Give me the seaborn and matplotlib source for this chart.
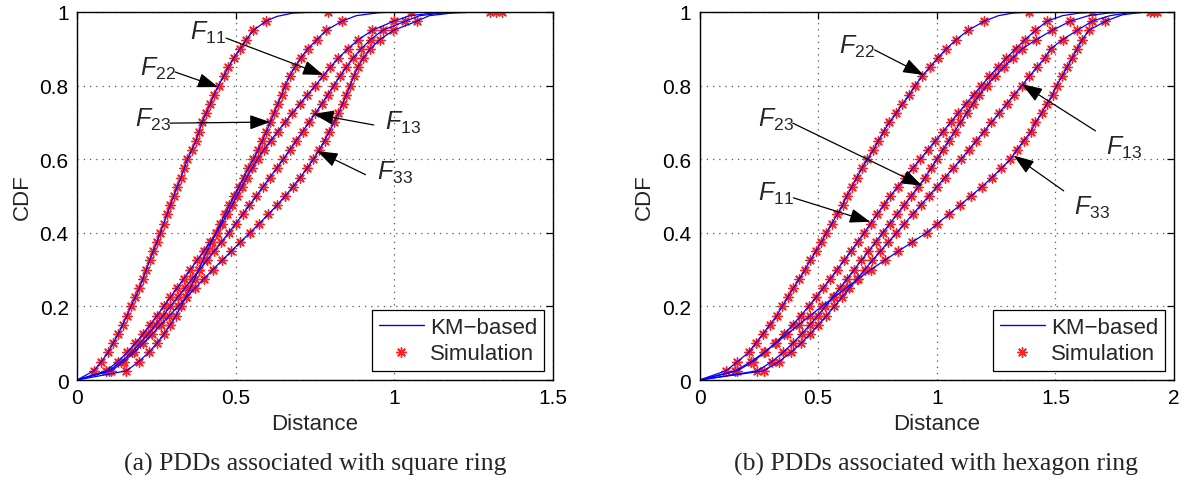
import numpy as np
import pandas as pd
import seaborn as sns
import matplotlib
matplotlib.use("Agg")
import matplotlib.pyplot as plt
from matplotlib.lines import Line2D

# niveles de CDF donde se muestrean los puntos de simulacion
cdf_levels = [0.025, 0.05, 0.075, 0.1, 0.125, 0.15, 0.175, 0.2, 0.225, 0.25,
              0.275, 0.3, 0.325, 0.35, 0.375, 0.4, 0.425, 0.45, 0.475, 0.5,
              0.525, 0.55, 0.575, 0.6, 0.625, 0.65, 0.675, 0.7, 0.725, 0.75,
              0.775, 0.8, 0.825, 0.85, 0.875, 0.9, 0.925, 0.95, 0.975, 1.0]

# (a) anillo cuadrado: distancia en cada nivel
sq_F22 = [0.053, 0.077, 0.098, 0.114, 0.130, 0.144, 0.158, 0.170, 0.184, 0.197,
          0.208, 0.219, 0.229, 0.241, 0.252, 0.263, 0.273, 0.284, 0.294, 0.305,
          0.316, 0.328, 0.338, 0.348, 0.362, 0.375, 0.385, 0.394, 0.407, 0.420,
          0.432, 0.446, 0.462, 0.477, 0.494, 0.514, 0.533, 0.556, 0.595, 0.790]
sq_F23 = [0.156, 0.195, 0.226, 0.252, 0.274, 0.294, 0.312, 0.328, 0.343, 0.357,
          0.371, 0.384, 0.397, 0.410, 0.424, 0.438, 0.452, 0.466, 0.480, 0.495,
          0.510, 0.525, 0.540, 0.556, 0.571, 0.584, 0.597, 0.609, 0.621, 0.633,
          0.645, 0.656, 0.670, 0.686, 0.705, 0.727, 0.756, 0.785, 0.835, 1.054]
sq_F11 = [0.092, 0.128, 0.158, 0.184, 0.208, 0.230, 0.252, 0.273, 0.294, 0.315,
          0.336, 0.357, 0.378, 0.399, 0.420, 0.440, 0.457, 0.473, 0.489, 0.504,
          0.520, 0.535, 0.552, 0.569, 0.588, 0.610, 0.632, 0.655, 0.678, 0.702,
          0.726, 0.751, 0.774, 0.798, 0.824, 0.853, 0.887, 0.930, 0.998, 1.300]
sq_F13 = [0.100, 0.140, 0.172, 0.199, 0.224, 0.248, 0.271, 0.294, 0.317, 0.340,
          0.363, 0.386, 0.409, 0.432, 0.455, 0.478, 0.500, 0.522, 0.543, 0.565,
          0.586, 0.607, 0.629, 0.650, 0.670, 0.690, 0.711, 0.731, 0.751, 0.771,
          0.790, 0.809, 0.828, 0.848, 0.870, 0.895, 0.925, 0.963, 1.035, 1.320]
sq_F33 = [0.108, 0.148, 0.180, 0.209, 0.237, 0.264, 0.291, 0.318, 0.345, 0.372,
          0.400, 0.428, 0.457, 0.486, 0.515, 0.545, 0.574, 0.603, 0.630, 0.656,
          0.680, 0.703, 0.725, 0.745, 0.763, 0.780, 0.795, 0.810, 0.824, 0.837,
          0.849, 0.861, 0.872, 0.885, 0.902, 0.924, 0.954, 0.997, 1.071, 1.340]

# (b) anillo hexagonal
hx_F22 = [0.111, 0.160, 0.207, 0.237, 0.267, 0.296, 0.326, 0.348, 0.372, 0.396,
          0.420, 0.445, 0.467, 0.490, 0.514, 0.535, 0.558, 0.580, 0.603, 0.621,
          0.642, 0.663, 0.684, 0.708, 0.733, 0.754, 0.776, 0.800, 0.828, 0.855,
          0.884, 0.909, 0.937, 0.970, 1.004, 1.040, 1.082, 1.132, 1.200, 1.387]
hx_F11 = [0.160, 0.225, 0.275, 0.318, 0.357, 0.393, 0.427, 0.460, 0.491, 0.521,
          0.551, 0.580, 0.609, 0.638, 0.666, 0.694, 0.721, 0.748, 0.776, 0.804,
          0.835, 0.866, 0.898, 0.930, 0.962, 0.994, 1.026, 1.058, 1.090, 1.122,
          1.155, 1.188, 1.222, 1.257, 1.293, 1.332, 1.372, 1.416, 1.465, 1.655]
hx_F23 = [0.244, 0.305, 0.352, 0.393, 0.430, 0.465, 0.498, 0.530, 0.561, 0.592,
          0.622, 0.652, 0.682, 0.712, 0.742, 0.772, 0.802, 0.832, 0.862, 0.892,
          0.922, 0.950, 0.976, 1.000, 1.025, 1.050, 1.075, 1.100, 1.126, 1.152,
          1.180, 1.210, 1.245, 1.282, 1.320, 1.360, 1.420, 1.486, 1.563, 1.900]
hx_F13 = [0.270, 0.335, 0.385, 0.428, 0.466, 0.501, 0.535, 0.568, 0.600, 0.632,
          0.664, 0.696, 0.729, 0.762, 0.796, 0.830, 0.864, 0.898, 0.932, 0.966,
          1.000, 1.034, 1.068, 1.102, 1.134, 1.166, 1.198, 1.230, 1.262, 1.294,
          1.326, 1.358, 1.390, 1.422, 1.455, 1.480, 1.530, 1.592, 1.655, 1.915]
hx_F33 = [0.150, 0.218, 0.272, 0.322, 0.370, 0.418, 0.466, 0.515, 0.566, 0.618,
          0.670, 0.722, 0.780, 0.838, 0.897, 0.957, 1.003, 1.050, 1.098, 1.144,
          1.190, 1.232, 1.272, 1.310, 1.337, 1.366, 1.397, 1.416, 1.442, 1.464,
          1.488, 1.505, 1.528, 1.549, 1.571, 1.592, 1.613, 1.641, 1.711, 1.930]

# cola de la curva KM entre el ultimo punto y CDF = 1
sq_tails = {
    "F22": ([0.63, 0.68, 0.75], [0.988, 0.997, 1.0]),
    "F23": ([0.88, 0.95, 1.00], [0.990, 0.998, 1.0]),
    "F11": ([1.05, 1.12, 1.20], [0.990, 0.997, 1.0]),
    "F13": ([1.08, 1.15, 1.22], [0.990, 0.997, 1.0]),
    "F33": ([1.11, 1.18, 1.26], [0.990, 0.997, 1.0]),
}
hx_tails = {
    "F22": ([1.26, 1.32, 1.40], [0.990, 0.997, 1.0]),
    "F11": ([1.53, 1.60, 1.68], [0.990, 0.997, 1.0]),
    "F23": ([1.64, 1.72, 1.82], [0.990, 0.997, 1.0]),
    "F13": ([1.73, 1.80, 1.90], [0.990, 0.997, 1.0]),
    "F33": ([1.78, 1.85, 1.92], [0.992, 0.998, 1.0]),
}

sq_curves = {"F22": sq_F22, "F23": sq_F23, "F11": sq_F11, "F13": sq_F13, "F33": sq_F33}
hx_curves = {"F22": hx_F22, "F11": hx_F11, "F23": hx_F23, "F13": hx_F13, "F33": hx_F33}

# etiquetas y flechas: (texto, posicion texto, cola, punta)
sq_labels = [
    ("11", (0.356, 0.927), (0.470, 0.929), (0.776, 0.829)),
    ("22", (0.199, 0.829), (0.309, 0.837), (0.445, 0.796)),
    ("23", (0.183, 0.690), (0.293, 0.698), (0.609, 0.701)),
    ("13", (0.972, 0.682), (0.935, 0.693), (0.745, 0.723)),
    ("33", (0.945, 0.546), (0.909, 0.558), (0.757, 0.622)),
]
hx_labels = [
    ("22", (0.590, 0.890), (0.738, 0.897), (0.944, 0.829)),
    ("23", (0.246, 0.691), (0.393, 0.698), (0.938, 0.528)),
    ("11", (0.248, 0.490), (0.396, 0.495), (0.719, 0.430)),
    ("13", (1.715, 0.614), (1.669, 0.677), (1.359, 0.804)),
    ("33", (1.580, 0.451), (1.535, 0.514), (1.324, 0.610)),
]

sns.set_style("white")
plt.rcParams["font.family"] = ["Liberation Sans", "DejaVu Sans"]
plt.rcParams["mathtext.fontset"] = "custom"
plt.rcParams["mathtext.it"] = "Liberation Sans:italic"
plt.rcParams["mathtext.rm"] = "Liberation Sans"

fig = plt.figure(figsize=(11.86, 4.85), dpi=100)
ax1 = fig.add_axes([0.0649, 0.2144, 0.4014, 0.7588])
ax2 = fig.add_axes([0.5898, 0.2144, 0.4001, 0.7588])

asterisk = (8, 2, 0)


def draw_panel(ax, curves, tails, labels, xmax, xticks, xticklabels):
    for name, xs in curves.items():
        pts = pd.DataFrame({"x": xs, "y": cdf_levels})
        sns.scatterplot(data=pts, x="x", y="y", ax=ax, color="#ff2020",
                        marker=asterisk, s=46, linewidth=1.0, legend=False, zorder=3)
    for name, xs in curves.items():
        tx, ty = tails[name]
        line = pd.DataFrame({
            "x": [0.0] + xs[:-1] + tx + [xmax],
            "y": [0.0] + cdf_levels[:-1] + ty + [1.0],
        })
        sns.lineplot(data=line, x="x", y="y", ax=ax, color="#0000ff", lw=0.9,
                     sort=False, estimator=None, legend=False, zorder=4)

    for sub, tpos, tail, head in labels:
        ax.text(tpos[0], tpos[1], r"$F_{%s}$" % sub, fontsize=18,
                ha="left", va="baseline", zorder=5)
        ax.annotate("", xy=head, xytext=tail,
                    arrowprops=dict(arrowstyle="-|>,head_length=0.9,head_width=0.32",
                                    color="black", lw=0.9, mutation_scale=14,
                                    shrinkA=0, shrinkB=0), zorder=6)

    ax.set_xlim(0, xmax)
    ax.set_ylim(0, 1)
    ax.set_xticks(xticks)
    ax.set_xticklabels(xticklabels)
    ax.set_yticks([0, 0.2, 0.4, 0.6, 0.8, 1])
    ax.set_yticklabels(["0", "0.2", "0.4", "0.6", "0.8", "1"])
    ax.grid(True, color="#555555", linestyle=(0, (1, 4)), lw=0.9)
    ax.tick_params(direction="in", length=5, width=0.9, top=True, right=True,
                   labelsize=15, pad=6, colors="black")
    for sp in ax.spines.values():
        sp.set_color("black")
        sp.set_linewidth(1.0)
        sp.set_zorder(7)
    ax.set_xlabel("Distance", fontsize=16, labelpad=4)
    ax.set_ylabel("CDF", fontsize=16, labelpad=5)

    handles = [Line2D([], [], color="#0000ff", lw=1.0),
               Line2D([], [], color="#ff2020", marker=asterisk, ls="none",
                      markersize=7.5, markeredgewidth=1.0)]
    leg = ax.legend(handles, ["KM\u2212based", "Simulation"], loc="lower right",
                    fontsize=16, fancybox=False, framealpha=1, edgecolor="black",
                    borderaxespad=0.4, handlelength=2.0, handletextpad=0.3,
                    borderpad=0.3, labelspacing=0.25)
    leg.get_frame().set_linewidth(0.9)
    leg.set_zorder(8)


draw_panel(ax1, sq_curves, sq_tails, sq_labels, 1.5, [0, 0.5, 1, 1.5],
           ["0", "0.5", "1", "1.5"])
draw_panel(ax2, hx_curves, hx_tails, hx_labels, 2.0, [0, 0.5, 1, 1.5, 2],
           ["0", "0.5", "1", "1.5", "2"])

fig.text(0.2656, 0.043, "(a) PDDs associated with square ring", ha="center",
         va="center", fontsize=18.5, family=["Liberation Serif", "DejaVu Serif"])
fig.text(0.789, 0.043, "(b) PDDs associated with hexagon ring", ha="center",
         va="center", fontsize=18.5, family=["Liberation Serif", "DejaVu Serif"])

fig.savefig("out.png", dpi=100)
